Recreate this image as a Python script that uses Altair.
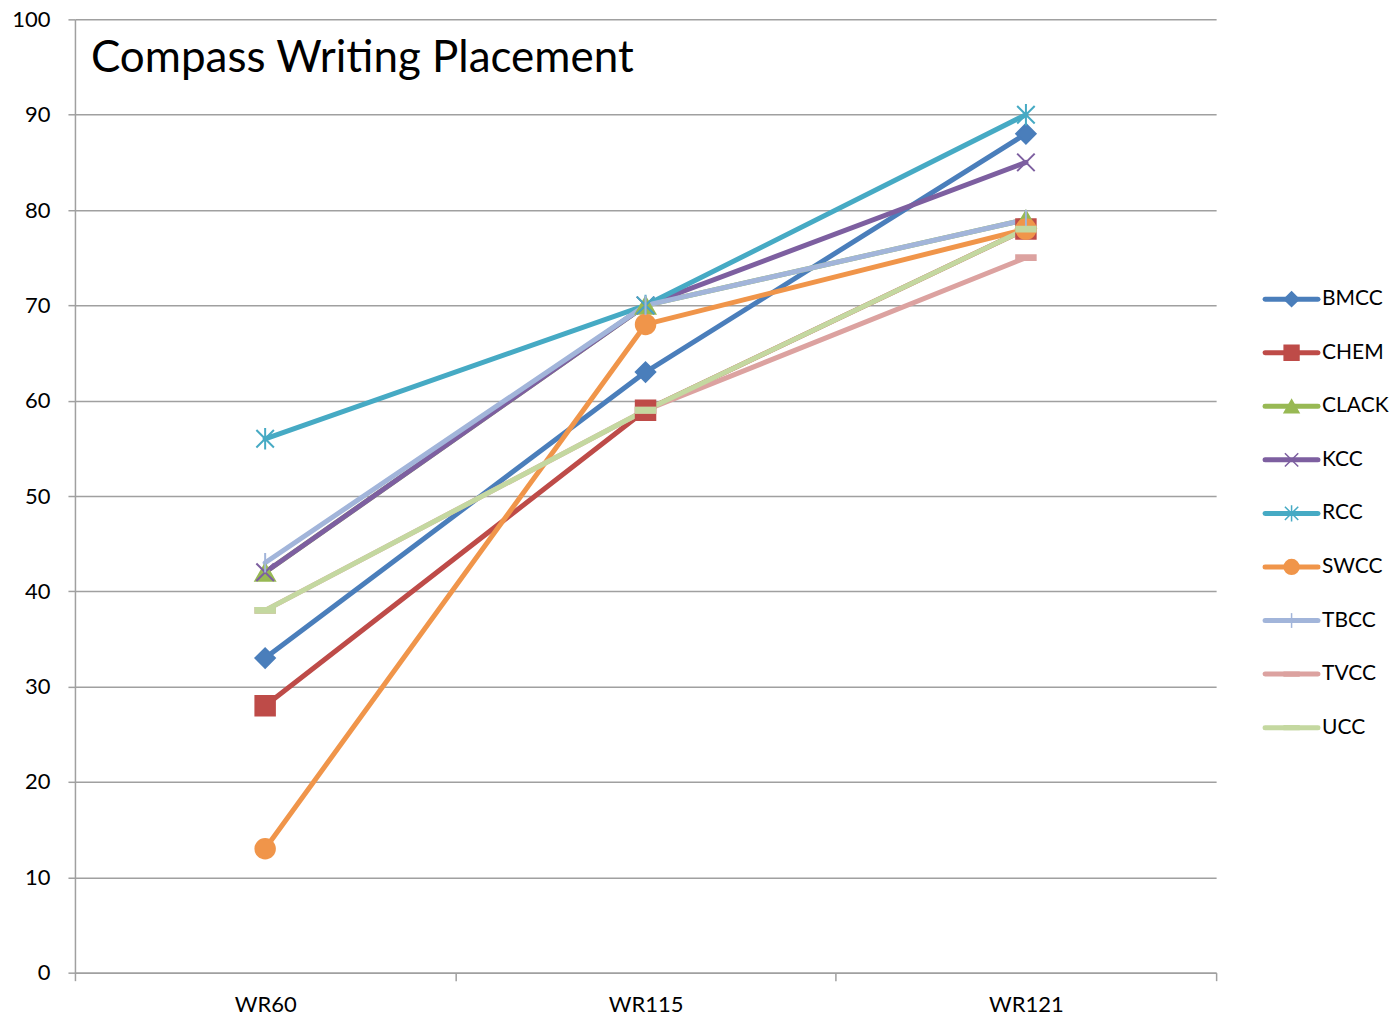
import altair as alt
import pandas as pd

categories = ["WR60", "WR115", "WR121"]
series = ["BMCC", "CHEM", "CLACK", "KCC", "RCC", "SWCC", "TBCC", "TVCC", "UCC"]
values = {
    "BMCC": [33, 63, 88],
    "CHEM": [28, 59, 78],
    "CLACK": [42, 70, 79],
    "KCC": [42, 70, 85],
    "RCC": [56, 70, 90],
    "SWCC": [13, 68, 78],
    "TBCC": [43, 70, 79],
    "TVCC": [38, 59, 75],
    "UCC": [38, 59, 78],
}
colors = ["#4a7ebb", "#be4b48", "#98b954", "#7d5fa0", "#46aac4",
          "#f0954a", "#a2b5da", "#dca2a0", "#c4d8a0"]
shapes = [
    "M0,-1L1,0L0,1L-1,0Z",
    "square",
    "triangle-up",
    "M-0.9,-0.9L0.9,0.9M-0.9,0.9L0.9,-0.9",
    "M-0.9,-0.9L0.9,0.9M-0.9,0.9L0.9,-0.9M0,-1.1L0,1.1",
    "circle",
    "M0,-1L0,1",
    "M-1,-0.25H1V0.25H-1Z",
    "M-1,-0.25H1V0.25H-1Z",
]
title_text = ["Compass Writing Placement"]

rows = []
for i, s in enumerate(series):
    for c, v in zip(categories, values[s]):
        rows.append({"series": s, "cat": c, "value": v, "ord": i})
df = pd.DataFrame(rows)

FONT = "Lato"
GRAY = "#a0a0a0"

color_scale = alt.Scale(domain=series, range=colors)
shape_scale = alt.Scale(domain=series, range=shapes)

x_enc = alt.X("cat:N", sort=categories, title=None,
              scale=alt.Scale(paddingInner=0, paddingOuter=0),
              axis=alt.Axis(labelAngle=0, tickBand="extent", grid=False,
                            tickSize=8, labelPadding=14, labelFontSize=22,
                            labelFont=FONT, labelColor="#000000",
                            domainColor=GRAY, tickColor=GRAY,
                            domainWidth=1.5, tickWidth=1.5))
y_enc = alt.Y("value:Q", title=None,
              scale=alt.Scale(domain=[0, 100], nice=False, zero=True),
              axis=alt.Axis(values=list(range(0, 101, 10)), tickSize=7,
                            labelPadding=18, labelFontSize=22, labelFont=FONT,
                            labelColor="#000000", domainColor=GRAY,
                            tickColor=GRAY, gridColor=GRAY, grid=True,
                            domainWidth=1.5, tickWidth=1.5, gridWidth=1.5))

lines = alt.Chart(df).mark_line(strokeWidth=5, strokeCap="round",
                                strokeJoin="round").encode(
    x=x_enc, y=y_enc,
    color=alt.Color("series:N", scale=color_scale, legend=None),
    detail="series:N",
    order=alt.Order("ord:Q"),
)

points = alt.Chart(df).mark_point(filled=True, opacity=1, strokeWidth=2).encode(
    x=alt.X("cat:N", sort=categories),
    y=alt.Y("value:Q"),
    fill=alt.Fill("series:N", scale=color_scale, legend=None),
    stroke=alt.Stroke("series:N", scale=color_scale, legend=None),
    shape=alt.Shape("series:N", scale=shape_scale, legend=None),
    size=alt.value(380),
    order=alt.Order("ord:Q"),
)

title = alt.Chart(pd.DataFrame({"t": title_text})).mark_text(
    font=FONT, fontSize=44, align="left", baseline="alphabetic",
    color="#000000").encode(
    text="t:N", x=alt.value(16), y=alt.value(53))

main = alt.layer(lines, points, title).properties(width=1142, height=954)

# legend panel
leg = pd.DataFrame({"series": series, "idx": list(range(len(series)))})
ly = alt.Y("idx:Q", axis=None,
           scale=alt.Scale(domain=[-280 / 53.6, (954 - 280) / 53.6],
                           reverse=True, nice=False, zero=False))
leg_line = alt.Chart(leg).mark_rule(strokeWidth=5, strokeCap="round").encode(
    x=alt.value(28), x2=alt.value(81), y=ly,
    color=alt.Color("series:N", scale=color_scale, legend=None))
leg_pt = alt.Chart(leg).mark_point(filled=True, opacity=1, strokeWidth=1.5).encode(
    x=alt.value(54.5), y=ly,
    fill=alt.Fill("series:N", scale=color_scale, legend=None),
    stroke=alt.Stroke("series:N", scale=color_scale, legend=None),
    shape=alt.Shape("series:N", scale=shape_scale, legend=None),
    size=alt.value(220))
leg_txt = alt.Chart(leg).mark_text(font=FONT, fontSize=21, align="left",
                                   baseline="middle", color="#000000").encode(
    x=alt.value(85), y=ly, text="series:N")
legend = alt.layer(leg_line, leg_pt, leg_txt).properties(width=100, height=954)

chart = alt.hconcat(main, legend, spacing=20).resolve_scale(
    color="shared", fill="shared", stroke="shared", shape="shared", y="independent"
).properties(
    padding={"left": 3, "top": 0, "right": 0, "bottom": 0},
    background="#ffffff",
).configure_view(strokeWidth=0)

chart.save("out.html", embed_options={"renderer": "svg", "actions": False})
